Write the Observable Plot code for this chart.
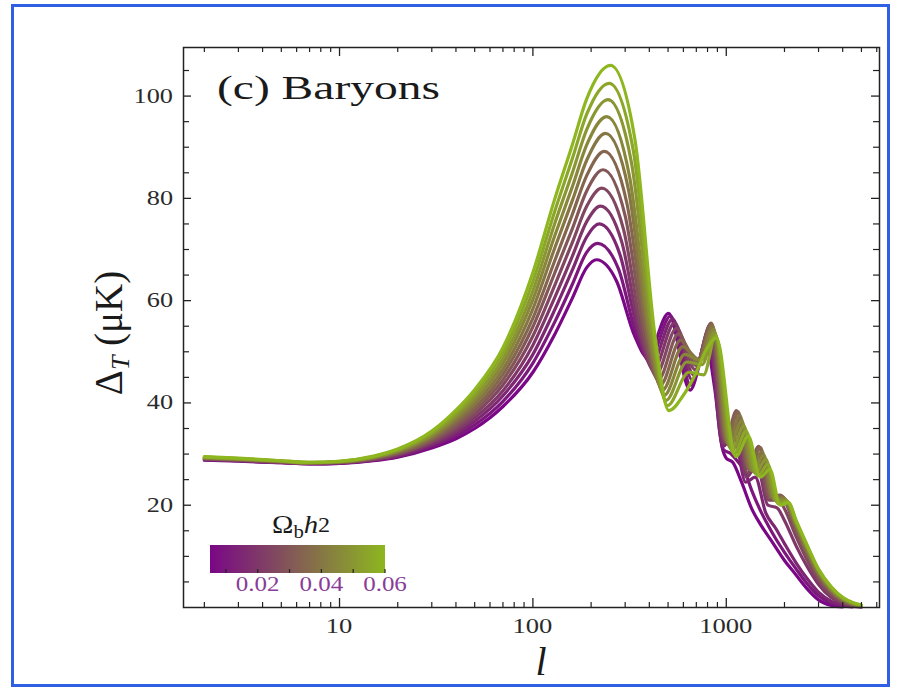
<!DOCTYPE html>
<html><head><meta charset="utf-8">
<script src="https://cdn.jsdelivr.net/npm/d3@7"></script>
<script src="https://cdn.jsdelivr.net/npm/@observablehq/plot@0.6"></script>
<style>
body{margin:0;background:#fff;}
#wrap{position:relative;width:899px;height:689px;overflow:hidden;background:#fff;}
#border{position:absolute;left:11px;top:4px;width:879px;height:683px;border:3px solid #2f5fe3;box-sizing:border-box;pointer-events:none;}
</style></head><body><div id="wrap"><div id="border"></div></div>
<script>
// Ω_b h² of each curve
const omegaB = [0.005, 0.01, 0.015, 0.02, 0.025, 0.03, 0.035, 0.04, 0.045, 0.05, 0.055, 0.06];

// [multipole l, ΔT (μK)]
const curve005 = [[2,28.8],[3,28.6],[5,28.3],[7,28.1],[10,28.2],[15,28.7],[20,29.4],[30,31.2],[40,33.0],[50,35.0],[70,39.3],[100,46.0],[130,53.5],[160,60.5],[190,66.5],[213,68],[271,63.8],[335,53.2],[390,49],[503,57.5],[650,42.5],[790,51],[870,43],[950,31.5],[1000,29.2],[1080,28.4],[1200,24.5],[1355,19.3],[1500,16.3],[1750,12.5],[2000,9.2],[2270,6.6],[2600,3.8],[3000,1.5],[3500,0.4],[4000,0.1]];
const curve010 = [[2,28.9],[3,28.7],[5,28.3],[7,28.1],[10,28.2],[15,28.8],[20,29.5],[30,31.5],[40,33.5],[50,35.7],[70,40.3],[100,47.8],[130,55.9],[160,63.2],[190,69.5],[216.5,71.2],[277,66.2],[343,53.3],[400,48.3],[515,57],[655,43.5],[800,52.5],[880,44],[960,31],[1060,30],[1150,28.5],[1250,26.5],[1350,23],[1500,19],[1650,16],[1800,13.5],[2000,10.8],[2300,7.5],[2600,4.8],[3000,2.3],[3500,0.8],[4000,0.3],[4500,0.1]];
const curve015 = [[2,28.9],[3,28.7],[5,28.4],[7,28.2],[10,28.3],[15,28.9],[20,29.7],[30,31.8],[40,34.0],[50,36.4],[70,41.4],[100,49.5],[130,58.3],[160,66.0],[190,72.5],[220,75],[282,69],[351,53.6],[410,47.5],[528,56.4],[667,44.5],[810,53.5],[960,31.5],[1095,33.5],[1260,24.5],[1410,25.5],[1600,18.5],[1800,15.5],[2000,12.5],[2300,8.7],[2600,5.8],[3000,3],[3500,1.2],[4000,0.5],[4500,0.2],[5000,0.1]];
const curve020 = [[2,29.0],[3,28.8],[5,28.4],[7,28.2],[10,28.3],[15,28.9],[20,29.8],[30,32.1],[40,34.5],[50,37.1],[70,42.4],[100,51.3],[130,60.7],[160,68.7],[190,75.5],[223.5,78.5],[288,71.5],[359,53.5],[420,46.5],[540,55.6],[678,45.5],[818,54.5],[970,32],[1110,35.5],[1275,25.5],[1440,28],[1640,20],[1830,19.5],[2000,17],[2300,12],[2600,8.2],[3000,4.5],[3500,1.9],[4000,0.8],[4500,0.3],[5000,0.1]];
const curve025 = [[2,29.1],[3,28.8],[5,28.4],[7,28.2],[10,28.3],[15,29.0],[20,30.0],[30,32.4],[40,35.0],[50,37.8],[70,43.5],[100,53.1],[130,63.1],[160,71.4],[190,78.5],[227,82],[294,74],[368,53.5],[432,45.5],[553,54.6],[690,46.5],[826,55.2],[980,32.3],[1120,37.2],[1290,26.3],[1455,30],[1660,21],[1870,21],[2000,19.3],[2300,13.8],[2600,9.5],[3000,5.3],[3500,2.4],[4000,1.0],[4500,0.4],[5000,0.15]];
const curve030 = [[2,29.1],[3,28.9],[5,28.5],[7,28.2],[10,28.4],[15,29.1],[20,30.1],[30,32.7],[40,35.5],[50,38.5],[70,44.5],[100,54.9],[130,65.5],[160,74.1],[190,81.5],[230.5,85.6],[300,76.6],[378,53.5],[445,44.5],[566,53.5],[700,47.3],[834,55.6],[990,32.5],[1130,38.5],[1300,27],[1470,31.5],[1680,21.5],[1900,22],[2300,15],[2600,10.5],[3000,6],[3500,2.8],[4000,1.2],[4500,0.5],[5000,0.2]];
const curve035 = [[2,29.2],[3,28.9],[5,28.5],[7,28.3],[10,28.4],[15,29.2],[20,30.3],[30,33.0],[40,36.1],[50,39.1],[70,45.6],[100,56.6],[130,67.9],[160,76.9],[190,84.5],[234,89.2],[306,79.1],[387,53.6],[457,43.5],[580,52.3],[712,48],[842,55.5],[1005,32.3],[1150,38.3],[1320,27],[1500,31.3],[1710,21.5],[1930,21.8],[2300,15.6],[2600,11],[3000,6.4],[3500,3.1],[4000,1.4],[4500,0.6],[5000,0.25]];
const curve040 = [[2,29.2],[3,29.0],[5,28.6],[7,28.3],[10,28.5],[15,29.3],[20,30.4],[30,33.3],[40,36.6],[50,39.8],[70,46.6],[100,58.4],[130,70.4],[160,79.6],[190,87.5],[237.5,92.7],[312,81.7],[395,53.5],[468,42.5],[595,51],[725,48.5],[850,55],[1025,31.8],[1175,37.5],[1345,26.8],[1530,30.5],[1740,21.3],[1960,21.5],[2300,16],[2600,11.4],[3000,6.7],[3500,3.3],[4000,1.5],[4500,0.7],[5000,0.3]];
const curve045 = [[2,29.3],[3,29.0],[5,28.6],[7,28.3],[10,28.5],[15,29.4],[20,30.6],[30,33.6],[40,37.1],[50,40.5],[70,47.7],[100,60.2],[130,72.8],[160,82.3],[190,90.5],[241,96],[317,84],[403,53.5],[478,41.5],[610,49.5],[738,48.3],[860,54.4],[1045,31.2],[1200,36.5],[1380,26.5],[1560,29.8],[1780,21],[2000,21.2],[2300,16.3],[2600,11.8],[3000,7],[3500,3.5],[4000,1.7],[4500,0.8],[5000,0.35]];
const curve050 = [[2,29.4],[3,29.1],[5,28.6],[7,28.3],[10,28.5],[15,29.4],[20,30.7],[30,33.9],[40,37.6],[50,41.2],[70,48.7],[100,61.9],[130,75.2],[160,85.0],[190,93.5],[244.5,99.3],[324,86.8],[413,53.4],[488,40.5],[625,48],[750,47.5],[870,53.8],[1070,30.6],[1230,35.5],[1420,26.2],[1600,29],[1820,20.7],[2040,20.9],[2300,16.6],[2600,12.1],[3000,7.2],[3500,3.7],[4000,1.8],[4500,0.9],[5000,0.4]];
const curve055 = [[2,29.4],[3,29.1],[5,28.7],[7,28.4],[10,28.6],[15,29.5],[20,30.9],[30,34.2],[40,38.1],[50,41.9],[70,49.8],[100,63.7],[130,77.6],[160,87.8],[190,96.5],[248,102.5],[331,89.2],[421,53.4],[497,39.5],[640,46],[765,45.5],[880,53.2],[1095,30],[1265,34.5],[1460,25.8],[1640,28],[1860,20.3],[2070,20.7],[2300,16.8],[2600,12.3],[3000,7.4],[3500,3.9],[4000,1.9],[4500,0.95],[5000,0.45]];
const curve060 = [[2,29.5],[3,29.2],[5,28.7],[7,28.4],[10,28.6],[15,29.6],[20,31.0],[30,34.5],[40,38.6],[50,42.6],[70,50.8],[100,65.5],[130,80.0],[160,90.5],[190,99.5],[252,106],[337,91.5],[427,53.4],[505,38.5],[600,41.5],[700,46],[790,50.5],[890,52.7],[1120,29.5],[1300,33.5],[1500,25.5],[1680,27],[1900,20],[2100,20.5],[2300,17],[2600,12.5],[3000,7.5],[3500,4],[4000,2],[4500,1],[5000,0.5]];

const curves = [curve005, curve010, curve015, curve020, curve025, curve030, curve035, curve040, curve045, curve050, curve055, curve060];

// axis ticks
const xMajorTicks = [10, 100, 1000];
const xMinorTicks = [2,3,4,5,6,7,8,9,20,30,40,50,60,70,80,90,200,300,400,500,600,700,800,900,2000,3000,4000,5000,6000];
const yMajorTicks = [20, 40, 60, 80, 100];
const yMinorTicks = [5,10,15,25,30,35,45,50,55,65,70,75,85,90,95,105];
// colour bar
const cbTicks = [0.01, 0.02, 0.03, 0.04, 0.05, 0.06];
const cbLabels = [0.02, 0.04, 0.06];

const purple = "#7a0786", green = "#8db61f";
const color = d3.scaleLinear().domain([0.005, 0.06]).range([purple, green]).interpolate(d3.interpolateRgb);

const W = 899, H = 689, mL = 183, mR = 20, mT = 47, mB = 82;
const iw = W - mL - mR, ih = H - mT - mB;
const ink = "#222";
const serif = "'Liberation Serif','Times New Roman',serif";

const plot = Plot.plot({
  width: W, height: H,
  marginLeft: mL, marginRight: mR, marginTop: mT, marginBottom: mB,
  x: {type: "log", domain: [1.56, 6200], axis: null},
  y: {domain: [0, 109.5], axis: null},
  style: {fontFamily: serif, fontSize: "20px", color: "#333", background: "white"},
  marks: [
    ...curves.map((c, k) => Plot.line(c, {x: d => d[0], y: d => d[1], stroke: color(omegaB[k]), strokeWidth: 3.2, curve: "monotone-x"})),
    Plot.frame({stroke: ink, strokeWidth: 1.5}),
    Plot.tickX(xMajorTicks, {x: d => d, insetTop: ih - 9, stroke: ink, strokeWidth: 1.3}),
    Plot.tickX(xMajorTicks, {x: d => d, insetBottom: ih - 9, stroke: ink, strokeWidth: 1.3}),
    Plot.tickX(xMinorTicks, {x: d => d, insetTop: ih - 5, stroke: ink, strokeWidth: 1.2}),
    Plot.tickX(xMinorTicks, {x: d => d, insetBottom: ih - 5, stroke: ink, strokeWidth: 1.2}),
    Plot.tickY(yMajorTicks, {y: d => d, insetRight: iw - 8, stroke: ink, strokeWidth: 1.3}),
    Plot.tickY(yMajorTicks, {y: d => d, insetLeft: iw - 8, stroke: ink, strokeWidth: 1.3}),
    Plot.tickY(yMinorTicks, {y: d => d, insetRight: iw - 6, stroke: ink, strokeWidth: 1.2}),
    Plot.tickY(yMinorTicks, {y: d => d, insetLeft: iw - 6, stroke: ink, strokeWidth: 1.2})
  ]
});
document.getElementById("wrap").prepend(plot);

const sx = plot.scale("x"), sy = plot.scale("y");
const svg = d3.select(plot);

// text stretched horizontally about its anchor (the reference figure is widened)
function wideText(g, x, y, s, anchor) {
  return g.append("text").attr("text-anchor", anchor)
    .attr("transform", `translate(${x},${y}) scale(${s},1)`);
}

// x tick labels
xMajorTicks.forEach(v => {
  wideText(svg, sx.apply(v), 633, 1.33, "middle").attr("font-family", serif).attr("font-size", 20)
    .attr("fill", "#2a2a2a").text(String(v));
});
// y tick labels
yMajorTicks.forEach(v => {
  wideText(svg, mL - 10, sy.apply(v) + 7, 1.25, "end").attr("font-family", serif).attr("font-size", 21)
    .attr("fill", "#2a2a2a").text(String(v));
});

// panel title
svg.append("text").attr("x", 217).attr("y", 99).attr("text-anchor", "start").attr("font-family", serif).attr("font-size", 33)
  .attr("fill", "#1a1a1a").attr("textLength", 223).attr("lengthAdjust", "spacingAndGlyphs").text("(c) Baryons");

// y label
const yl = svg.append("text").attr("transform", "translate(122,333) rotate(-90)").attr("text-anchor", "middle")
  .attr("font-family", serif).attr("font-size", 39).attr("fill", "#1a1a1a");
yl.append("tspan").text("Δ");
yl.append("tspan").attr("font-style", "italic").attr("font-size", 26).attr("dy", 7).text("T");
yl.append("tspan").attr("dy", -7).text(" (μK)");

// x label
svg.append("text").attr("x", 541).attr("y", 675).attr("text-anchor", "middle").attr("font-family", serif)
  .attr("font-style", "italic").attr("font-size", 40).attr("fill", "#1a1a1a").text("l");

// colour bar
const cb = d3.scaleLinear().domain([0.005, 0.06]).range([210, 385]);
const grad = svg.append("defs").append("linearGradient").attr("id", "cbgrad").attr("x1", "0%").attr("x2", "100%");
d3.range(0, 1.0001, 0.1).forEach(f => grad.append("stop").attr("offset", (f * 100) + "%").attr("stop-color", color(0.005 + f * 0.055)));
svg.append("rect").attr("x", cb(0.005)).attr("y", 545).attr("width", cb(0.06) - cb(0.005)).attr("height", 28).attr("fill", "url(#cbgrad)");
svg.append("g").selectAll("line").data(cbTicks).join("line")
  .attr("x1", d => cb(d)).attr("x2", d => cb(d)).attr("y1", 573).attr("y2", 569).attr("stroke", ink).attr("stroke-width", 1.2);
cbLabels.forEach(v => {
  wideText(svg, cb(v), 591, 1.25, "middle").attr("font-family", serif).attr("font-size", 20)
    .attr("fill", "#8a3c98").text(v.toFixed(2));
});
const cbt = wideText(svg, 272, 533, 1.15, "start").attr("font-family", serif).attr("font-size", 25).attr("fill", "#1a1a1a");
cbt.append("tspan").text("Ω");
cbt.append("tspan").attr("font-size", 18).attr("dy", 5).text("b");
cbt.append("tspan").attr("font-style", "italic").attr("dy", -5).text("h");
cbt.append("tspan").attr("font-size", 21).attr("dy", -1).text("2");
</script></body></html>
